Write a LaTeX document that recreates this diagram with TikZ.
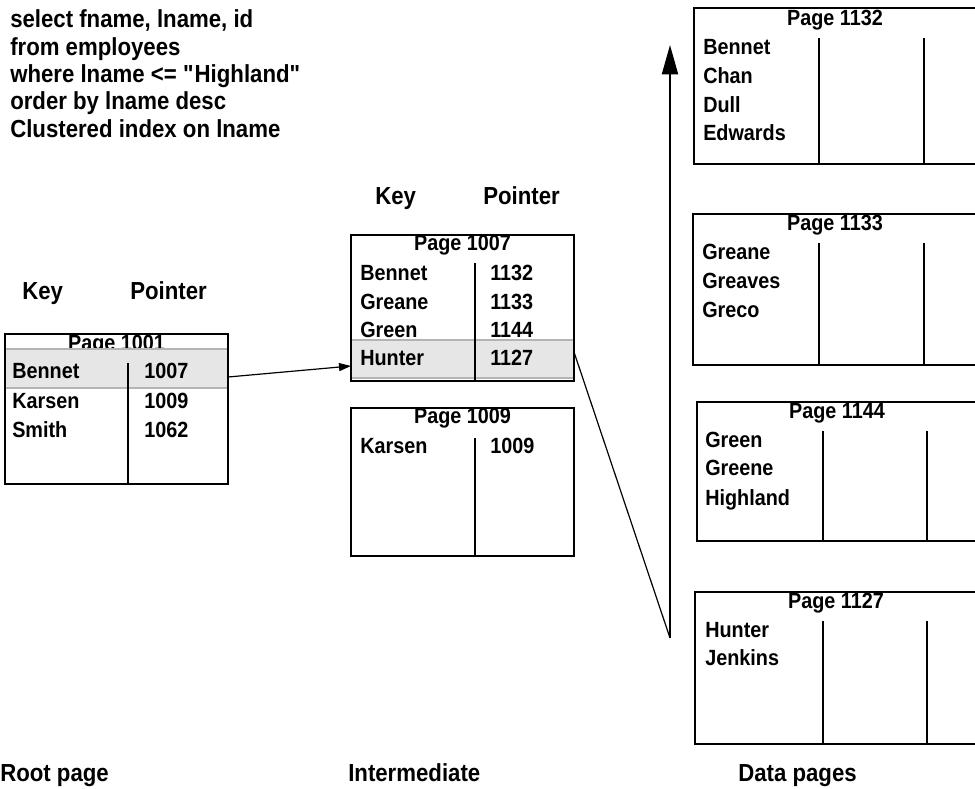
\documentclass[tikz,border=0pt]{standalone}
\usepackage{fontspec}
\setmainfont{Liberation Sans}[FakeStretch=0.9]
\usetikzlibrary{arrows.meta}
\definecolor{bandfill}{HTML}{E6E6E6}
\definecolor{bandedge}{HTML}{B4B4B4}
\begin{document}
\begin{tikzpicture}[x=0.75pt,y=-0.75pt,
  pageframe/.style={line width=1.5pt},
  colrule/.style={line width=1.5pt},
  band/.style={fill=bandfill,draw=bandedge,line width=1.5pt},
  entry/.style={anchor=base west,inner sep=0pt,font=\fontsize{16.5}{19}\selectfont\bfseries},
  pagetitle/.style={anchor=base,inner sep=0pt,font=\fontsize{16.5}{19}\selectfont\bfseries},
  caption/.style={anchor=base west,inner sep=0pt,font=\fontsize{18.5}{21}\selectfont\bfseries},
  thinlink/.style={line width=0.9pt},
]
\useasboundingbox (0,0) rectangle (975,789);
\clip (0,0) rectangle (975,789);

% query text
\node[caption] (q1) at (10,27)  {select fname, lname, id};
\node[caption] (q2) at (10,55)  {from employees};
\node[caption] (q3) at (10,82)  {where lname <= \textquotedbl Highland\textquotedbl};
\node[caption] (q4) at (10,109) {order by lname desc};
\node[caption] (q5) at (10,137) {Clustered index on lname};

% column headings
\node[caption] (rkey) at (22,299) {Key};
\node[caption] (rptr) at (130,299) {Pointer};
\node[caption] (ikey) at (375,204) {Key};
\node[caption] (iptr) at (483,204) {Pointer};

% level captions
\node[caption] (lroot) at (0,781)   {Root page};
\node[caption] (linter) at (348,781) {Intermediate};
\node[caption] (ldata) at (738,781)  {Data pages};

% ---- root page 1001
\node[pagetitle] (t1001) at (116.5,350) {Page 1001};
\path[band] (5,349) rectangle (228,388);
\draw[pageframe] (5,334) rectangle (228,484);
\draw[colrule] (128,363) -- (128,484);
\node[entry] (r1k) at (12,378) {Bennet};
\node[entry] (r1p) at (144,378) {1007};
\node[entry] (r2k) at (12,408) {Karsen};
\node[entry] (r2p) at (144,408) {1009};
\node[entry] (r3k) at (12,437) {Smith};
\node[entry] (r3p) at (144,437) {1062};
\coordinate (rootout) at (228,377);

% ---- intermediate page 1007
\node[pagetitle] (t1007) at (462.5,250) {Page 1007};
\path[band] (351,340) rectangle (574,378);
\draw[pageframe] (351,235) rectangle (574,381);
\draw[colrule] (475,263) -- (475,381);
\node[entry] (a1k) at (360,280) {Bennet};
\node[entry] (a1p) at (490,280) {1132};
\node[entry] (a2k) at (360,309) {Greane};
\node[entry] (a2p) at (490,309) {1133};
\node[entry] (a3k) at (360,337) {Green};
\node[entry] (a3p) at (490,337) {1144};
\node[entry] (a4k) at (360,365) {Hunter};
\node[entry] (a4p) at (490,365) {1127};
\coordinate (interin) at (351,366);
\coordinate (interout) at (574,352);

% ---- intermediate page 1009
\node[pagetitle] (t1009) at (462.5,423) {Page 1009};
\draw[pageframe] (351,408) rectangle (574,556);
\draw[colrule] (475,438) -- (475,556);
\node[entry] (b1k) at (360,453) {Karsen};
\node[entry] (b1p) at (490,453) {1009};

% ---- data page 1132
\draw[pageframe] (694,8) rectangle (976,164);
\draw[colrule] (819,38) -- (819,164);
\draw[colrule] (924,38) -- (924,164);
\node[pagetitle] (t1132) at (835,25) {Page 1132};
\node[entry] (d1a) at (703,54)  {Bennet};
\node[entry] (d1b) at (703,83)  {Chan};
\node[entry] (d1c) at (703,112) {Dull};
\node[entry] (d1d) at (703,140) {Edwards};

% ---- data page 1133
\draw[pageframe] (693,214) rectangle (976,365);
\draw[colrule] (819,243) -- (819,365);
\draw[colrule] (924,243) -- (924,365);
\node[pagetitle] (t1133) at (835,230) {Page 1133};
\node[entry] (d2a) at (702,259) {Greane};
\node[entry] (d2b) at (702,288) {Greaves};
\node[entry] (d2c) at (702,317) {Greco};

% ---- data page 1144
\draw[pageframe] (697,402) rectangle (977,541);
\draw[colrule] (823,431) -- (823,541);
\draw[colrule] (927,431) -- (927,541);
\node[pagetitle] (t1144) at (837,418) {Page 1144};
\node[entry] (d3a) at (705,447) {Green};
\node[entry] (d3b) at (705,475) {Greene};
\node[entry] (d3c) at (705,505) {Highland};

% ---- data page 1127
\draw[pageframe] (695,592) rectangle (977,744);
\draw[colrule] (823,621) -- (823,744);
\draw[colrule] (927,621) -- (927,744);
\node[pagetitle] (t1127) at (836,608) {Page 1127};
\node[entry] (d4a) at (705,637) {Hunter};
\node[entry] (d4b) at (705,665) {Jenkins};

% ---- links
\coordinate (scanstart) at (670,638);
\coordinate (scanend) at (670,45);
\draw[thinlink,-{Triangle[length=9pt,width=6pt]}] (rootout) -- (interin);
\draw[thinlink] (interout) -- (scanstart);
\draw[line width=1.5pt,-{Triangle[length=22pt,width=12pt]}] (scanstart) -- (scanend);
\end{tikzpicture}
\end{document}
